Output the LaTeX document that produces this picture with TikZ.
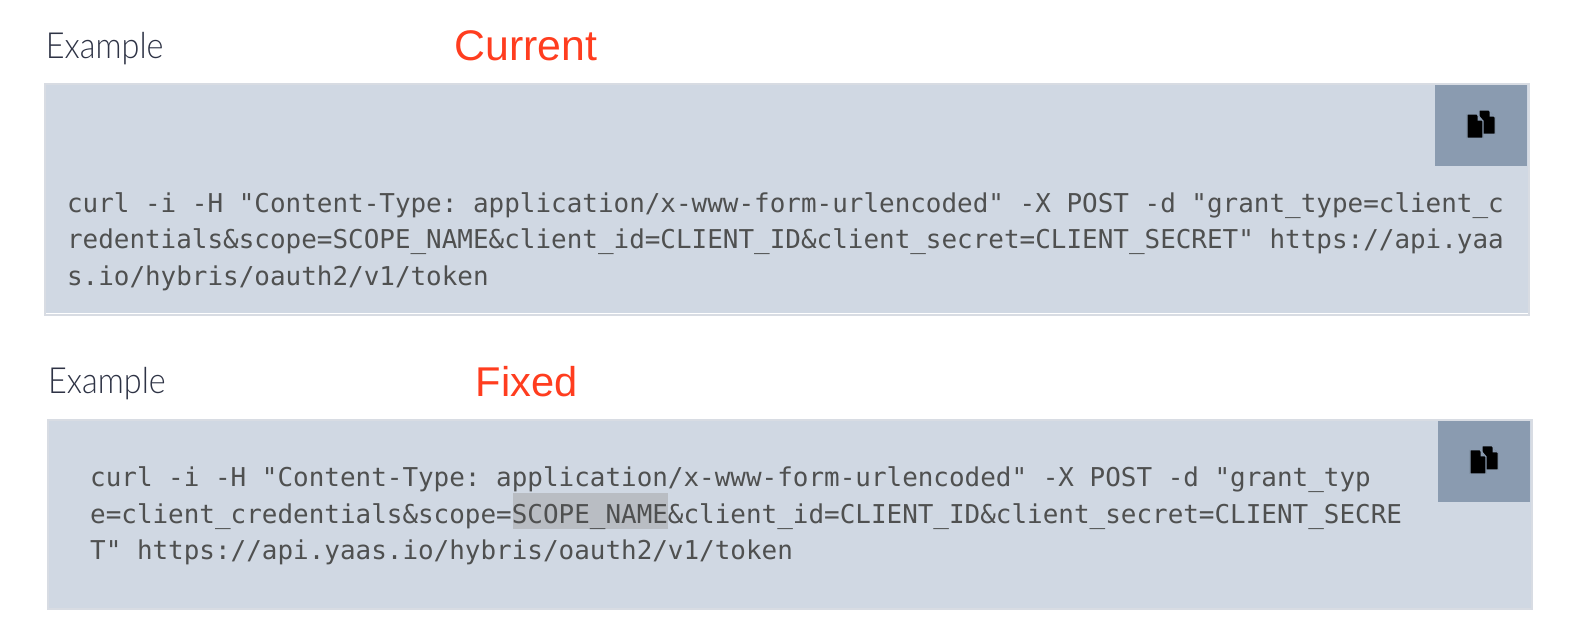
\documentclass[tikz,border=0pt]{standalone}
\usepackage{fontspec}
\usepackage{tikz}
\setmainfont{Liberation Sans}
\newfontfamily\codefont{DejaVu Sans Mono}
\newfontfamily\headfont{Lato Light}
\definecolor{boxfill}{HTML}{D0D8E3}
\definecolor{boxline}{HTML}{D8DCE3}
\definecolor{btnfill}{HTML}{8A9BB0}
\definecolor{markfill}{HTML}{B9BDC3}
\definecolor{codetext}{HTML}{4F5050}
\definecolor{headtext}{HTML}{2E3345}
\definecolor{notetext}{HTML}{FF3D1F}
\newcommand{\headword}{\scalebox{.9}[1]{Example}}
\tikzset{
  headlabel/.style={anchor=base west,inner sep=0pt,text=headtext,font=\headfont\fontsize{18}{20}\selectfont},
  notelabel/.style={anchor=base west,inner sep=0pt,text=notetext,font=\fontsize{21.4}{24}\selectfont},
  codeline/.style={anchor=base west,inner sep=0pt,text=codetext,font=\codefont\frenchspacing\fontsize{12.97}{15}\selectfont},
  copysheet/.style={fill=black,draw=btnfill,line width=.6pt},
}
\begin{document}
\begin{tikzpicture}[x=0.5025pt,y=-0.5025pt]
        \useasboundingbox (0,0) rectangle (1568,625.8);
        % top block
        \node[headlabel] (headA) at (45.3,58) {\headword};
        \node[notelabel] (noteA) at (452,60) {Current};
        \draw[boxline,line width=1pt,fill=boxfill](45,84) rectangle (1521,313.5);
        \draw[white,line width=.5pt](46,311.8)--(1520,311.8);
        \fill[btnfill](1428,85) rectangle (1519,165);
        \foreach \u/\v in {1471.5/109.5,1459.5/113.5}{
        \draw[copysheet](\u,\v)--(\u+10,\v)--(\u+16,\v+7)--(\u+16,\v+24)--(\u,\v+24)--cycle;
        \fill[btnfill](\u+10.5,\v+1)--(\u+15,\v+6.5)--(\u+10.5,\v+6.5)--cycle;
        }
        \node[codeline] (codeA) at (66.3,211) {curl -i -H "Content-Type: application/x-www-form-urlencoded" -X POST -d "grant\_type=client\_c};
        \node[codeline] (codeB) at (66.3,247.5) {redentials\&scope=SCOPE\_NAME\&client\_id=CLIENT\_ID\&client\_secret=CLIENT\_SECRET" https://api.yaa};
        \node[codeline] (codeC) at (66.3,284) {s.io/hybris/oauth2/v1/token};
        % bottom block
        \node[headlabel] (headB) at (47.5,391.5) {\headword};
        \node[notelabel,font=\fontsize{20.8}{24}\selectfont] (noteB) at (473,394.5) {Fixed};
        \draw[boxline,line width=1pt,fill=boxfill](48,418) rectangle (1524,606);
        \fill[btnfill](1431,419) rectangle (1522,499);
        \foreach \u/\v in {1474.5/443.5,1462.5/447.5}{
        \draw[copysheet](\u,\v)--(\u+10,\v)--(\u+16,\v+7)--(\u+16,\v+24)--(\u,\v+24)--cycle;
        \fill[btnfill](\u+10.5,\v+1)--(\u+15,\v+6.5)--(\u+10.5,\v+6.5)--cycle;
        }
        \fill[markfill](510,490.5) rectangle (665,526);
        \node[codeline] (codeD) at (89.3,484) {curl -i -H "Content-Type: application/x-www-form-urlencoded" -X POST -d "grant\_typ};
        \node[codeline] (codeE) at (89.3,520.5) {e=client\_credentials\&scope=SCOPE\_NAME\&client\_id=CLIENT\_ID\&client\_secret=CLIENT\_SECRE};
        \node[codeline] (codeF) at (89.3,557) {T" https://api.yaas.io/hybris/oauth2/v1/token};
\end{tikzpicture}
\end{document}
